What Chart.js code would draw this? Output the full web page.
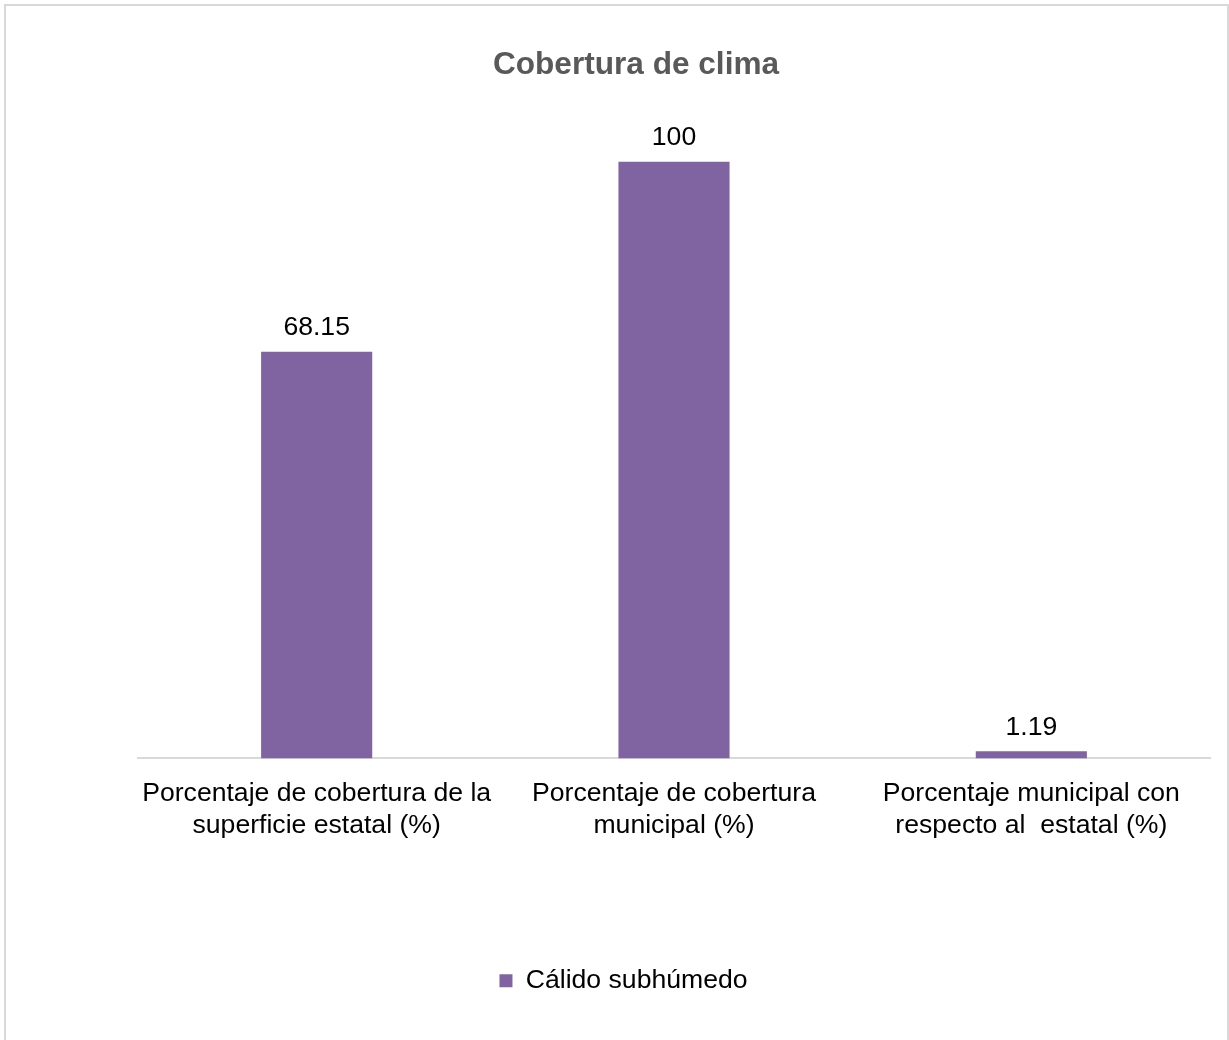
<!DOCTYPE html>
<html>
<head>
<meta charset="utf-8">
<script src="https://cdn.jsdelivr.net/npm/chart.js@4/dist/chart.umd.min.js"></script>
<style>
  html, body { margin: 0; padding: 0; background: #fff; }
  #wrap { position: relative; width: 1229px; height: 1040px; overflow: hidden; }
  #c { position: absolute; left: 0; top: 0; }
  #frame { position: absolute; left: 4px; top: 4px; width: 1221px; height: 1100px;
           border: 2px solid #d9d9d9; pointer-events: none; }
</style>
</head>
<body>
<div id="wrap">
  <canvas id="c" width="1229" height="1040"></canvas>
  <div id="frame"></div>
</div>
<script>
const chartTitle = "Cobertura de clima";
const categories = [
  ["Porcentaje de cobertura de la", "superficie estatal (%)"],
  ["Porcentaje de cobertura", "municipal (%)"],
  ["Porcentaje municipal con", "respecto al  estatal (%)"]
];
const seriesName = "Cálido subhúmedo";
const seriesValues = [68.15, 100, 1.19];
const valueLabels = ["68.15", "100", "1.19"];

const FONT = "'Liberation Sans', Arial, sans-serif";

const valueLabelPlugin = {
  id: 'valueLabels',
  afterDatasetsDraw(chart) {
    const ctx = chart.ctx;
    const meta = chart.getDatasetMeta(0);
    ctx.save();
    ctx.font = "26.6px " + FONT;
    ctx.fillStyle = "#000000";
    ctx.textAlign = "center";
    ctx.textBaseline = "middle";
    meta.data.forEach((bar, i) => {
      ctx.fillText(valueLabels[i], bar.x, bar.y - 24);
    });
    ctx.restore();
  }
};

const titlePlugin = {
  id: 'chartTitleText',
  afterDraw(chart) {
    const ctx = chart.ctx;
    ctx.save();
    ctx.font = "bold 31.6px " + FONT;
    ctx.fillStyle = "#595959";
    ctx.textAlign = "center";
    ctx.textBaseline = "middle";
    ctx.fillText(chartTitle, (chart.width + 43) / 2, 65);
    ctx.restore();
  }
};

new Chart(document.getElementById('c'), {
  type: 'bar',
  data: {
    labels: categories,
    datasets: [{
      label: seriesName,
      data: seriesValues,
      backgroundColor: '#8064A2',
      borderWidth: 0,
      categoryPercentage: 1.0,
      barPercentage: 0.311
    }]
  },
  options: {
    responsive: false,
    devicePixelRatio: 1,
    animation: false,
    layout: { padding: { left: 18, right: 0, top: 102, bottom: 36 } },
    plugins: {
      title: { display: false },
      legend: {
        display: true,
        position: 'bottom',
        labels: {
          color: '#000000',
          font: { family: FONT, size: 26.6 },
          boxWidth: 13,
          boxHeight: 13,
          padding: 10
        }
      },
      tooltip: { enabled: false }
    },
    scales: {
      x: {
        grid: { display: false, drawTicks: false },
        border: { display: true, color: '#d9d9d9', width: 2 },
        ticks: {
          color: '#000000',
          font: { family: FONT, size: 26.6, lineHeight: 1.2 },
          padding: 19,
          maxRotation: 0,
          autoSkip: false
        },
        afterFit(scale) { scale.height = 199; }
      },
      y: {
        position: 'left',
        min: 0,
        max: 110,
        grid: { display: false, drawTicks: false },
        border: { display: false },
        ticks: { display: false },
        afterFit(scale) { scale.width = 120; }
      },
      y2: {
        position: 'right',
        min: 0,
        max: 110,
        grid: { display: false, drawTicks: false },
        border: { display: false },
        ticks: { display: false },
        afterFit(scale) { scale.width = 19; }
      }
    }
  },
  plugins: [valueLabelPlugin, titlePlugin]
});
</script>
</body>
</html>
